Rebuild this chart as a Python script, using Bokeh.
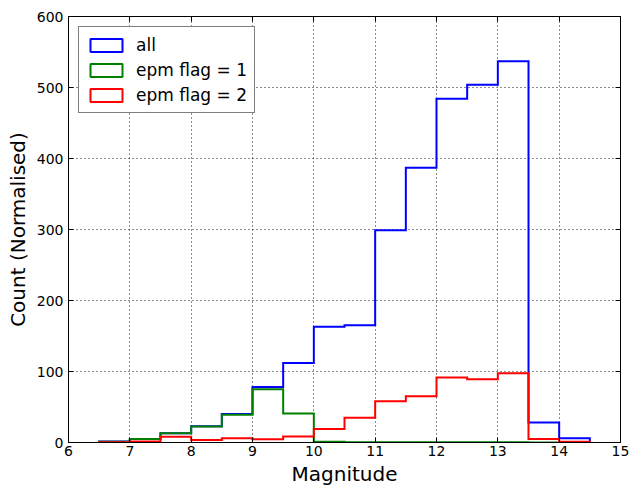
from bokeh.plotting import figure
from bokeh.models import (ColumnDataSource, FixedTicker, LinearAxis, Legend,
                          LegendItem, Range1d)
from bokeh.embed import file_html
from bokeh.resources import INLINE

# Histogram bin edges (magnitude) and counts per bin
bin_edges = [6.5, 7.0, 7.5, 8.0, 8.5, 9.0, 9.5, 10.0, 10.5, 11.0, 11.5,
             12.0, 12.5, 13.0, 13.5, 14.0, 14.5]
counts_all = [1.5, 5, 13, 23, 40, 78, 112, 163, 165, 299, 387, 484, 504,
              537, 28, 6]
counts_flag1 = [1, 5, 13, 22.5, 39, 75, 41, 1, 0.5, 0.5, 0.5, 0.5, 0.5,
                0.5, 0, 0]
counts_flag2 = [0.5, 1.5, 8, 3.5, 6, 4.5, 8.5, 19, 35, 58, 65, 91.5, 89,
                97.5, 5, 1]

series = [
    ("all", counts_all, "#0000ff"),
    ("epm flag = 1", counts_flag1, "#008000"),
    ("epm flag = 2", counts_flag2, "#ff0000"),
]

x_ticks = [6, 7, 8, 9, 10, 11, 12, 13, 14, 15]
y_ticks = [0, 100, 200, 300, 400, 500, 600]

FONT = "DejaVu Sans"


def step_outline(edges, counts):
    """Outline of a step histogram: up from zero, across each bin, back to zero."""
    xs, ys = [edges[0]], [0]
    for i, c in enumerate(counts):
        xs += [edges[i], edges[i + 1]]
        ys += [c, c]
    xs.append(edges[-1])
    ys.append(0)
    return xs, ys


p = figure(width=630, height=489, output_backend="svg", toolbar_location=None,
           x_range=Range1d(6, 15), y_range=Range1d(0, 600),
           min_border_left=68, min_border_right=10, min_border_top=16,
           min_border_bottom=47)

p.background_fill_color = "white"
p.border_fill_color = "white"
p.outline_line_color = "black"
p.outline_line_width = 1

for ax, ticks in ((p.xaxis[0], x_ticks), (p.yaxis[0], y_ticks)):
    ax.ticker = FixedTicker(ticks=ticks)
    ax.major_tick_in = 5
    ax.major_tick_out = 0
    ax.minor_tick_line_color = None
    ax.major_label_text_font = FONT
    ax.major_label_text_font_size = "14px"
    ax.major_label_text_color = "black"
    ax.axis_label_text_font = FONT
    ax.axis_label_text_font_size = "20px"
    ax.axis_label_text_font_style = "normal"
    ax.axis_label_text_color = "black"
    ax.axis_line_color = "black"
    ax.major_tick_line_color = "black"

p.xaxis[0].axis_label = "Magnitude"
p.yaxis[0].axis_label = "Count (Normalised)"
p.xaxis[0].major_label_standoff = 3
p.yaxis[0].major_label_standoff = 5
p.xaxis[0].axis_label_standoff = 3
p.yaxis[0].axis_label_standoff = 4

# Inward ticks on the top and right spines, labels not drawn
for ticks, side in ((x_ticks, "above"), (y_ticks, "right")):
    extra = LinearAxis(ticker=FixedTicker(ticks=ticks), major_tick_in=5,
                       major_tick_out=0, minor_tick_line_color=None,
                       major_label_text_font_size="1px",
                       major_label_text_color=None, axis_line_color=None,
                       major_label_standoff=0, major_tick_line_color="black")
    p.add_layout(extra, side)

for g in (p.xgrid[0], p.ygrid[0]):
    g.grid_line_color = "black"
    g.grid_line_dash = "1 3"
    g.grid_line_width = 1
    g.grid_line_alpha = 0.9

items = []
for label, counts, color in series:
    xs, ys = step_outline(bin_edges, counts)
    p.line(x=xs, y=ys, line_color=color, line_width=2, line_join="miter")
    # Hidden bar renderer that supplies the box-shaped legend handle
    bars = ColumnDataSource(dict(left=bin_edges[:-1], right=bin_edges[1:],
                                 top=counts, bottom=[0] * len(counts)))
    handle = p.quad(source=bars, left="left", right="right", top="top",
                    bottom="bottom", fill_color="white", line_color=color,
                    line_width=2)
    handle.visible = False
    items.append(LegendItem(label=label, renderers=[handle]))

legend = Legend(items=items, location="top_left", margin=10, padding=7,
                spacing=4, glyph_width=40, glyph_height=16, label_height=21,
                label_standoff=10, label_text_font=FONT,
                label_text_font_size="17px", label_text_color="black",
                border_line_color="black", border_line_width=1,
                background_fill_color="white", background_fill_alpha=1,
                inactive_fill_alpha=0)
p.add_layout(legend, "center")

open("out.html", "w").write(file_html(p, INLINE))
